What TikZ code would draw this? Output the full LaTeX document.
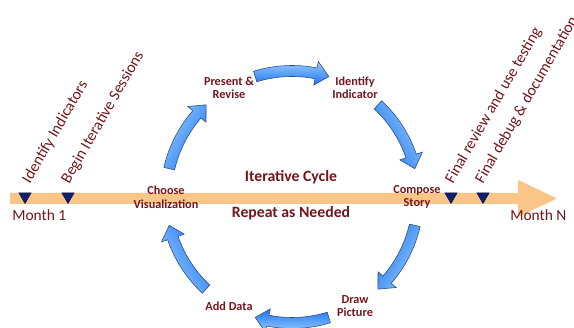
\documentclass[tikz,border=0pt]{standalone}
\usepackage{fontspec}
\setmainfont{Carlito}
\usetikzlibrary{shapes.geometric, positioning}

\definecolor{bordeaux}{RGB}{115,22,28}
\definecolor{timeline}{RGB}{250,198,135}
\definecolor{navy}{RGB}{18,32,110}
\definecolor{arrowlight}{RGB}{150,205,255}
\definecolor{arrowdark}{RGB}{30,115,240}
\definecolor{arrowline}{RGB}{40,75,130}

\begin{document}
\begin{tikzpicture}[
        x=0.025cm, y=0.025cm,
        stage/.style={font=\fontsize{8.7}{9.7}\selectfont\bfseries, text=bordeaux, align=center, inner sep=1pt},
        title/.style={font=\fontsize{11.2}{13}\selectfont\bfseries, text=bordeaux, anchor=base},
        month/.style={font=\fontsize{11}{13}\selectfont, text=bordeaux, anchor=base west, inner sep=0pt},
        milestone/.style={font=\fontsize{11.2}{13}\selectfont, text=bordeaux, rotate=60, anchor=base west, inner sep=0pt},
        marker/.style={regular polygon, regular polygon sides=3, shape border rotate=180, fill=navy, draw=navy!70!black, minimum size=0.35cm, inner sep=0pt},
        cyclearrow/.style={draw=arrowline, line width=0.4pt, top color=arrowlight, bottom color=arrowdark}
    ]
        \clip (0,0) rectangle (574,328);

        % Timeline
        \fill[timeline] (10,124) -- (518,124) -- (518,111) -- (557,129.5) -- (518,148) -- (518,135) -- (10,135) -- cycle;
        \node[month] (start) at (12,107) {Month 1};
        \node[month] (finish) at (510,107) {Month N};

        % Milestones
        \node[marker] (m1) at (25,131.5) {};
        \node[marker] (m2) at (68,131.5) {};
        \node[marker] (m3) at (451,131.5) {};
        \node[marker] (m4) at (483,131.5) {};
        \node[milestone] at ([shift={(5,12)}]m1.center) {Identify Indicators};
        \node[milestone] at ([shift={(1,12)}]m2.center) {Begin Iterative Sessions};
        \node[milestone] at ([shift={(2,12)}]m3.center) {Final review and use testing};
        \node[milestone] at ([shift={(0,12)}]m4.center) {Final debug \& documentation};

        % Iterative cycle
        \coordinate (ctr) at (292,131);
        \node[title] (cycle) at (291,146) {Iterative Cycle};
        \node[title] (repeat) at (291,110.7) {Repeat as Needed};
        \node[stage] (present) at ([shift={(120:126)}]ctr) {Present \&\\Revise};
        \node[stage] (identify) at ([shift={(60:126)}]ctr) {Identify\\Indicator};
        \node[stage] (compose) at ([shift={(0:125)}]ctr) {Compose\\Story};
        \node[stage] (picture) at ([shift={(-60:126)}]ctr) {Draw\\Picture};
        \node[stage] (adddata) at ([shift={(-120:126)}]ctr) {Add Data};
        \node[stage] (choose) at ([shift={(180:126)}]ctr) {Choose\\Visualization};

        % Arrows between stages
        \foreach \c [evaluate=\c as \sa using \c-90, evaluate=\c as \a using \c+17,
                     evaluate=\c as \b using \c-17, evaluate=\c as \h using \c-11] in {90,30,-30,-90,-150,150}
            \shade[cyclearrow, shading angle=\sa]
                ([shift={(\a:131.5)}]ctr) arc[start angle=\a, end angle=\h, radius=131.5]
                -- ([shift={(\h:138)}]ctr) -- ([shift={(\b:126)}]ctr) -- ([shift={(\h:114)}]ctr)
                -- ([shift={(\h:120.5)}]ctr) arc[start angle=\h, end angle=\a, radius=120.5] -- cycle;
    \end{tikzpicture}
\end{document}
